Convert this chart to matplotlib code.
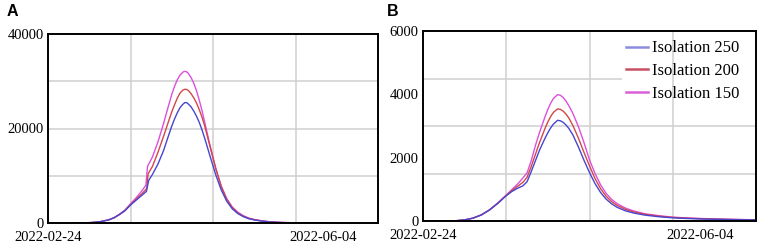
import matplotlib
matplotlib.use("Agg")
import matplotlib.pyplot as plt
from matplotlib.lines import Line2D
from matplotlib.patches import Rectangle

# ---------------- data ----------------
x_tick_days = [0, 100]
x_tick_labels = ["2022-02-24", "2022-06-04"]
series_names = ["Isolation 250", "Isolation 200", "Isolation 150"]

# Panel A
blueA_days = [0, 6, 10, 13, 16, 19, 22, 24, 26, 28, 30, 32, 34, 35.8, 36.6, 38, 40, 42, 44, 45, 46, 47, 48,
              49, 49.8, 50.5, 51, 52, 53, 54, 55, 56, 57, 59, 61, 63, 65, 67, 69, 71, 73, 75, 78, 81, 85,
              90, 100, 120]
blueA = [0, 0, 10, 20, 100, 280, 650, 1100, 1800, 2600, 3800, 4800, 5800, 6700, 9000, 10300, 12500, 15300,
         18800, 20500, 22000, 23300, 24400, 25100, 25500, 25450, 25200, 24600, 23700, 22600, 21300, 19700,
         17900, 14000, 10200, 7000, 4600, 3000, 2000, 1350, 900, 650, 380, 200, 90, 30, 5, 0]
redA_days = [0, 6, 10, 13, 16, 19, 22, 24, 26, 28, 30, 32, 34, 35.9, 36.4, 38, 40, 42, 44, 45, 46, 47, 48,
             49, 49.7, 50.5, 51, 52, 53, 54, 55, 56, 57, 59, 61, 63, 65, 67, 69, 71, 73, 75, 78, 81, 85,
             90, 100, 120]
redA = [0, 0, 10, 20, 100, 280, 650, 1100, 1800, 2650, 3900, 5000, 6100, 7300, 10400, 12000, 15000, 18300,
        21800, 23500, 25000, 26400, 27500, 28100, 28300, 28250, 28050, 27400, 26500, 25400, 24000, 22400,
        20500, 16000, 11500, 7700, 5000, 3250, 2150, 1450, 980, 700, 410, 220, 100, 35, 6, 0]
magA_days = [0, 6, 10, 13, 16, 19, 22, 24, 26, 28, 30, 32, 34, 35.6, 36.2, 38, 40, 42, 44, 45, 46, 47, 48,
             49, 49.6, 50.4, 51, 52, 53, 54, 55, 56, 57, 59, 61, 63, 65, 67, 69, 71, 73, 75, 78, 81, 85,
             90, 100, 120]
magA = [0, 0, 10, 20, 100, 280, 660, 1120, 1850, 2750, 4050, 5300, 6700, 8000, 12000, 14000, 17200, 21000,
        25200, 27200, 28900, 30300, 31300, 31900, 32100, 32000, 31700, 30800, 29600, 28000, 26000, 23800,
        21300, 16200, 11600, 7800, 5150, 3400, 2300, 1550, 1050, 750, 440, 250, 110, 40, 7, 0]

# Panel B
daysB = [0, 8, 12, 15, 18, 21, 24, 27, 30, 32, 34, 36, 37.5, 39, 40.5, 42, 44, 45, 46, 47, 48.5, 49.5, 50.5,
         51.5, 52.5, 54, 56, 58, 60, 62, 64, 66, 68, 70, 73, 76, 80, 85, 90, 95, 100, 105, 110, 115, 120]
blueB = [0, 2, 10, 35, 90, 190, 350, 560, 800, 930, 1030, 1110, 1240, 1560, 1900, 2240, 2620, 2790, 2940,
         3060, 3180, 3165, 3115, 3035, 2930, 2720, 2340, 1920, 1530, 1180, 900, 690, 540, 430, 320, 250,
         185, 135, 100, 80, 65, 55, 45, 38, 32]
redB = [0, 2, 10, 35, 90, 190, 350, 565, 810, 960, 1090, 1220, 1380, 1720, 2100, 2480, 2930, 3130, 3300,
        3430, 3540, 3525, 3470, 3380, 3260, 3020, 2620, 2170, 1740, 1340, 1020, 780, 610, 490, 365, 285,
        210, 152, 112, 90, 73, 61, 51, 43, 36]
magB = [0, 2, 10, 35, 90, 195, 355, 575, 820, 990, 1160, 1360, 1520, 1900, 2380, 2800, 3300, 3530, 3720,
        3870, 3990, 3970, 3900, 3790, 3650, 3400, 2980, 2480, 1930, 1500, 1140, 870, 680, 545, 405, 315,
        228, 168, 122, 97, 79, 66, 55, 46, 39]

# ---------------- style ----------------
colors = ["#4646d2", "#d24848", "#dc50dc"]
legend_colors = ["#8c8ce0", "#c85064", "#d860d8"]
grid_color = "#cfcfcf"
serif = ["Liberation Serif", "DejaVu Serif"]

W, H = 765, 244
fig = plt.figure(figsize=(W / 100, H / 100), dpi=100)


def px_axes(l, t, r, b):
    return fig.add_axes([l / W, 1 - b / H, (r - l) / W, (b - t) / H])


def style_axes(ax, ymax, yticks, ygrid):
    ax.set_xlim(0, 120)
    ax.set_ylim(0, ymax)
    for g in ygrid:
        ax.axhline(g, color=grid_color, lw=1.1, zorder=0.5)
    for g in [30, 60, 90]:
        ax.axvline(g, color=grid_color, lw=1.1, zorder=1.5)
    ax.set_xticks(x_tick_days)
    ax.set_xticklabels(x_tick_labels, fontfamily=serif, fontsize=10.5)
    ax.set_yticks(yticks)
    ax.set_yticklabels([str(v) for v in yticks], fontfamily=serif, fontsize=10.5)
    ax.tick_params(axis="both", length=0)
    ax.tick_params(axis="x", pad=6)
    ax.tick_params(axis="y", pad=3)
    for s in ax.spines.values():
        s.set_linewidth(1.4)
        s.set_color("black")
        s.set_zorder(5)


# Panel A
axA = px_axes(48, 34, 378, 223)
style_axes(axA, 40000, [0, 20000, 40000], [10000, 20000, 30000])
axA.plot(blueA_days, blueA, color=colors[0], lw=1.0, zorder=2.2)
axA.plot(redA_days, redA, color=colors[1], lw=1.0, zorder=2.1)
axA.plot(magA_days, magA, color=colors[2], lw=1.0, zorder=2.0)

# Panel B
axB = px_axes(423, 31, 756, 221)
style_axes(axB, 6000, [0, 2000, 4000, 6000], [1500, 3000, 4500])
axB.plot(daysB, blueB, color=colors[0], lw=1.0, zorder=2.2)
axB.plot(daysB, redB, color=colors[1], lw=1.0, zorder=2.1)
axB.plot(daysB, magB, color=colors[2], lw=1.0, zorder=2.0)
axB.add_patch(Rectangle((0.598, 0.63), 0.402, 0.37, transform=axB.transAxes,
                        facecolor="white", edgecolor="none", zorder=1.0))
handles = [Line2D([], [], color=c, lw=1.8) for c in legend_colors]
axB.legend(handles, series_names, loc="upper right", bbox_to_anchor=(0.95, 0.95),
           frameon=False, prop={"family": serif, "size": 12}, handlelength=1.3,
           handletextpad=0.25, labelspacing=0.40, borderpad=0, borderaxespad=0)

# Panel labels
fig.text(7 / W, 1 - 16.5 / H, "A", fontsize=11.5, fontweight="bold",
         fontfamily=["Liberation Sans", "DejaVu Sans"], va="baseline")
fig.text(387 / W, 1 - 16.5 / H, "B", fontsize=11.5, fontweight="bold",
         fontfamily=["Liberation Sans", "DejaVu Sans"], va="baseline")

fig.savefig("out.png", dpi=100)
